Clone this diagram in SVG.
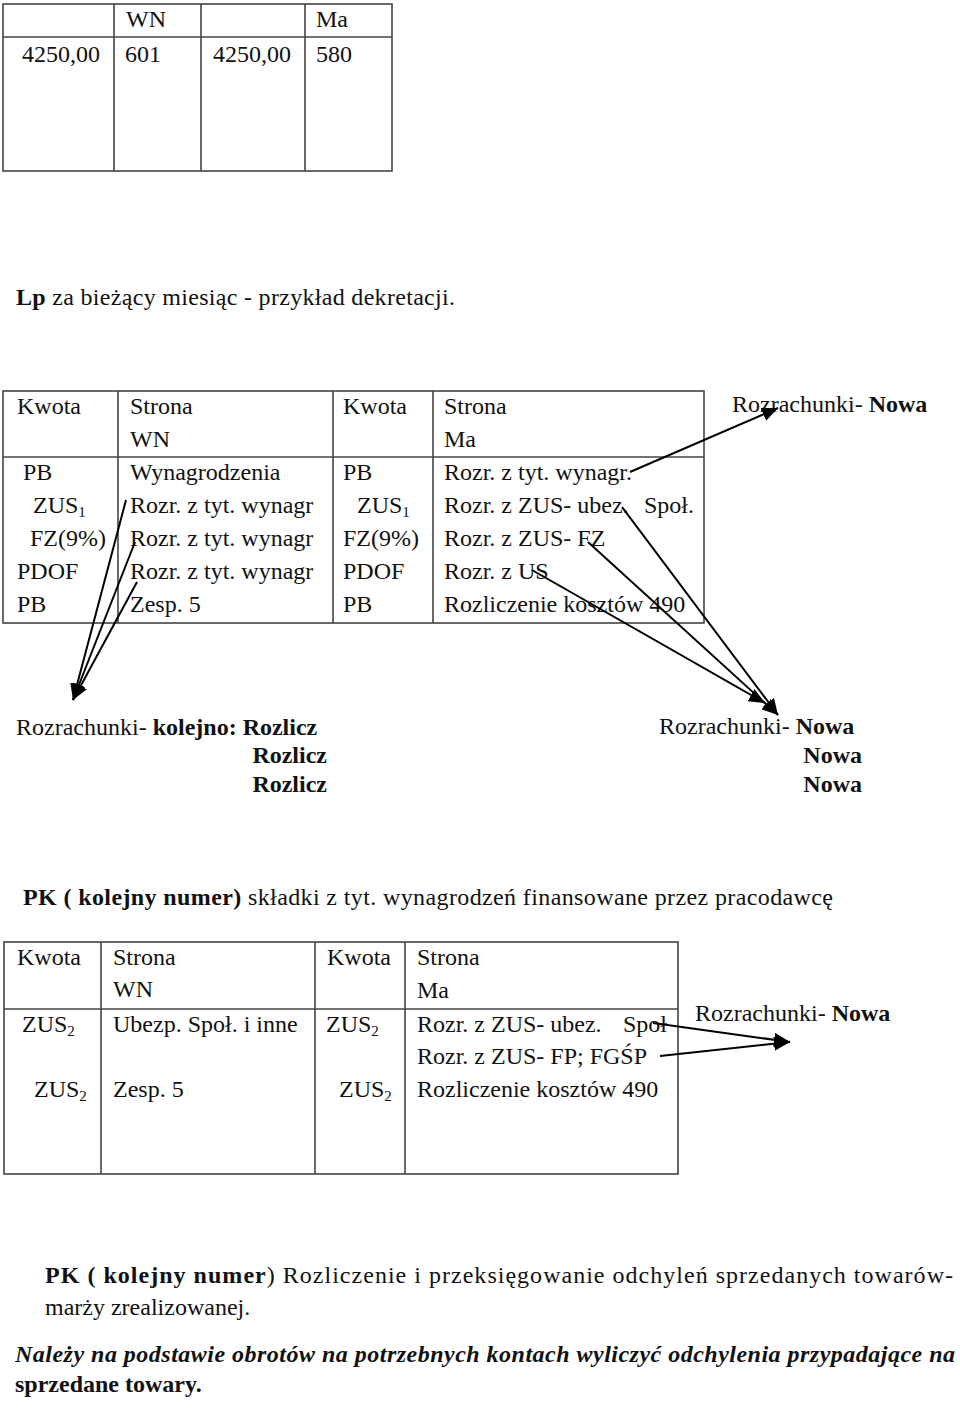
<svg xmlns="http://www.w3.org/2000/svg" width="960" height="1410" viewBox="0 0 960 1410">
<style>
text{font-family:"Liberation Serif","Times New Roman",serif;font-size:24px;fill:#111}
.b{font-weight:bold}
.i{font-style:italic}
.e{text-anchor:end}
.sub{font-size:15px}
.grid line,.grid rect{stroke:#444;stroke-width:1.6;fill:none}
.conn line{stroke:#000;stroke-width:2;marker-end:url(#ah)}
</style>
<defs>
<marker id="ah" markerUnits="userSpaceOnUse" markerWidth="18" markerHeight="14" refX="16" refY="7" orient="auto">
<path d="M0,0 L16,7 L0,14 Z" fill="#000"/>
</marker>
</defs>
<rect width="960" height="1410" fill="#fff"/>

<g id="table-top" class="grid">
<rect x="3" y="4" width="389" height="167"/>
<line x1="3" y1="37" x2="392" y2="37"/>
<line x1="114" y1="4" x2="114" y2="171"/>
<line x1="201" y1="4" x2="201" y2="171"/>
<line x1="305" y1="4" x2="305" y2="171"/>
</g>
<g id="table-top-text">
<text x="126" y="27">WN</text>
<text x="316" y="27">Ma</text>
<text x="22" y="62">4250,00</text>
<text x="125" y="62">601</text>
<text x="213" y="62">4250,00</text>
<text x="316" y="62">580</text>
</g>

<g id="title-lp">
<text x="16" y="305" textLength="439"><tspan class="b">Lp</tspan> za bieżący miesiąc - przykład dekretacji.</text>
</g>

<g id="table-mid" class="grid">
<rect x="3" y="391" width="701" height="232"/>
<line x1="3" y1="457" x2="704" y2="457"/>
<line x1="118" y1="391" x2="118" y2="623"/>
<line x1="333" y1="391" x2="333" y2="623"/>
<line x1="433" y1="391" x2="433" y2="623"/>
</g>
<g id="table-mid-text">
<text x="17" y="414">Kwota</text>
<text x="130" y="414">Strona</text>
<text x="130" y="447">WN</text>
<text x="343" y="414">Kwota</text>
<text x="444" y="414">Strona</text>
<text x="444" y="447">Ma</text>
<text x="23" y="480">PB</text>
<text x="33" y="513">ZUS<tspan class="sub" dy="4">1</tspan></text>
<text x="30" y="546">FZ(9%)</text>
<text x="17" y="579">PDOF</text>
<text x="17" y="612">PB</text>
<text x="130" y="480">Wynagrodzenia</text>
<text x="130" y="513">Rozr. z tyt. wynagr</text>
<text x="130" y="546">Rozr. z tyt. wynagr</text>
<text x="130" y="579">Rozr. z tyt. wynagr</text>
<text x="130" y="612">Zesp. 5</text>
<text x="343" y="480">PB</text>
<text x="357" y="513">ZUS<tspan class="sub" dy="4">1</tspan></text>
<text x="343" y="546">FZ(9%)</text>
<text x="343" y="579">PDOF</text>
<text x="343" y="612">PB</text>
<text x="444" y="480">Rozr. z tyt. wynagr.</text>
<text x="444" y="513">Rozr. z ZUS- ubez. <tspan x="644">Społ.</tspan></text>
<text x="444" y="546">Rozr. z ZUS- FZ</text>
<text x="444" y="579">Rozr. z US</text>
<text x="444" y="612">Rozliczenie kosztów 490</text>
</g>

<g id="node-rozr-nowa-top">
<text x="732" y="412">Rozrachunki- <tspan class="b">Nowa</tspan></text>
</g>

<g id="node-rozr-kolejno">
<text x="16" y="735">Rozrachunki- <tspan class="b">kolejno: Rozlicz</tspan></text>
<text class="b e" x="327" y="763">Rozlicz</text>
<text class="b e" x="327" y="792">Rozlicz</text>
</g>

<g id="node-rozr-nowa-mid">
<text x="659" y="734">Rozrachunki- <tspan class="b">Nowa</tspan></text>
<text class="b e" x="862" y="763">Nowa</text>
<text class="b e" x="862" y="792">Nowa</text>
</g>

<g id="title-pk1">
<text x="23" y="905" textLength="810"><tspan class="b">PK ( kolejny numer)</tspan> składki z tyt. wynagrodzeń finansowane przez pracodawcę</text>
</g>

<g id="table-bot" class="grid">
<rect x="4" y="942" width="674" height="232"/>
<line x1="4" y1="1009" x2="678" y2="1009"/>
<line x1="101" y1="942" x2="101" y2="1174"/>
<line x1="315" y1="942" x2="315" y2="1174"/>
<line x1="405" y1="942" x2="405" y2="1174"/>
</g>
<g id="table-bot-text">
<text x="17" y="965">Kwota</text>
<text x="113" y="965">Strona</text>
<text x="113" y="997">WN</text>
<text x="327" y="965">Kwota</text>
<text x="417" y="965">Strona</text>
<text x="417" y="998">Ma</text>
<text x="22" y="1032">ZUS<tspan class="sub" dy="4">2</tspan></text>
<text x="113" y="1032">Ubezp. Społ. i inne</text>
<text x="326" y="1032">ZUS<tspan class="sub" dy="4">2</tspan></text>
<text x="417" y="1032">Rozr. z ZUS- ubez. <tspan x="623">Społ</tspan></text>
<text x="417" y="1064">Rozr. z ZUS- FP; FGŚP</text>
<text x="34" y="1097">ZUS<tspan class="sub" dy="4">2</tspan></text>
<text x="113" y="1097">Zesp. 5</text>
<text x="339" y="1097">ZUS<tspan class="sub" dy="4">2</tspan></text>
<text x="417" y="1097">Rozliczenie kosztów 490</text>
</g>

<g id="node-rozr-nowa-bot">
<text x="695" y="1021">Rozrachunki- <tspan class="b">Nowa</tspan></text>
</g>

<g id="connectors" class="conn">
<line x1="630" y1="472" x2="778" y2="408"/>
<line x1="126" y1="500" x2="73" y2="700"/>
<line x1="135" y1="542" x2="73" y2="700"/>
<line x1="137" y1="582" x2="73" y2="700"/>
<line x1="622" y1="507" x2="778" y2="715"/>
<line x1="588" y1="542" x2="778" y2="715"/>
<line x1="532" y1="570" x2="765" y2="703"/>
<line x1="653" y1="1023" x2="790" y2="1042"/>
<line x1="660" y1="1056" x2="790" y2="1042"/>
</g>

<g id="text-bottom">
<text x="45" y="1283" textLength="908"><tspan class="b">PK ( kolejny numer</tspan>) Rozliczenie i przeksięgowanie odchyleń sprzedanych towarów-</text>
<text x="45" y="1315">marży zrealizowanej.</text>
<text class="b i" x="15" y="1362" textLength="940">Należy na podstawie obrotów na potrzebnych kontach wyliczyć odchylenia przypadające na</text>
<text class="b" x="15" y="1392">sprzedane towary.</text>
</g>
</svg>
